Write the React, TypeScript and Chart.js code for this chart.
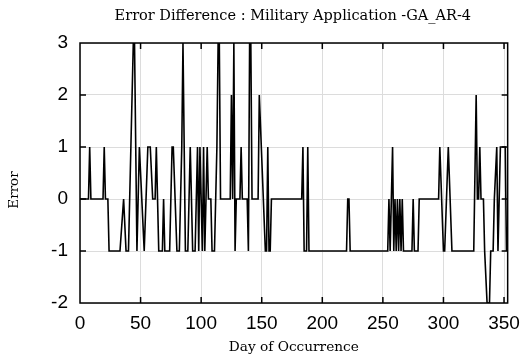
import React, { useEffect, useRef } from "react";
import { Chart, registerables } from "chart.js";

Chart.register(...registerables);

const titleText = "Error Difference : Military Application -GA_AR-4";
const xTitle = "Day of Occurrence";
const yTitle = "Error";

const xTicks = [0, 50, 100, 150, 200, 250, 300, 350];
const yTicks = [-2, -1, 0, 1, 2, 3];

const days = [
  0, 7, 8, 9, 19, 20, 21, 23, 24, 33,
  36, 38, 40, 42, 44, 45, 47, 49, 51, 53,
  56, 58, 60, 62, 63, 65, 68, 69, 70, 74,
  76, 77, 80, 82, 84, 85, 87, 89, 91, 93,
  95, 97, 98, 99, 100, 101, 102, 103, 104, 105,
  106, 108, 109, 111, 113, 114, 115, 116, 124, 125,
  126, 127, 128, 129, 132, 133, 134, 138, 139, 140,
  141, 142, 147, 148, 153, 154, 155, 156, 157, 158,
  183, 184, 185, 187, 188, 189, 220, 221, 222, 223,
  254, 255, 256, 258, 259, 260, 261, 262, 263, 264,
  265, 266, 267, 274, 275, 276, 279, 280, 296, 297,
  300, 301, 304, 307, 325, 327, 328, 329, 330, 331,
  333, 334, 336, 338, 339, 341, 342, 344, 345, 346,
  347, 351, 352,
];

const errors = [
  0, 0, 1, 0, 0, 1, 0, 0, -1, -1,
  0, -1, -1, 1, 3, 3, -1, 1, 0, -1,
  1, 1, 0, 0, 1, -1, -1, 0, -1, -1,
  1, 1, -1, -1, 1, 3, -1, -1, 1, -1,
  -1, 1, -1, 1, 0, -1, 1, -1, 0, 1,
  0, 0, -1, -1, 1, 3, 3, 0, 0, 2,
  0, 3, -1, 0, 0, 1, 0, 0, -1, 3,
  3, 0, 0, 2, -1, -1, 1, -1, -1, 0,
  0, 1, -1, -1, 1, -1, -1, 0, 0, -1,
  -1, 0, -1, 1, -1, 0, -1, 0, -1, 0,
  -1, 0, -1, -1, 0, -1, -1, 0, 0, 1,
  -1, -1, 1, -1, -1, 2, 0, 0, 1, 0,
  0, -1, -2, -2, -1, -1, 0, 1, -1, 0,
  1, 1, -1,
];

const serif = "'DejaVu Serif', 'Liberation Serif', serif";
const sans = "'Liberation Sans', Arial, sans-serif";

const framePlugin = {
  id: "frameTicksTitle",
  afterDraw(chart: any) {
    const { ctx, chartArea: a, scales } = chart;
    ctx.save();
    ctx.strokeStyle = "#000";
    ctx.lineWidth = 1.5;
    ctx.strokeRect(a.left, a.top, a.right - a.left, a.bottom - a.top);
    const L = 6;
    ctx.beginPath();
    xTicks.forEach((v) => {
      const px = scales.x.getPixelForValue(v);
      if (px <= a.left + 1 || px >= a.right - 1) return;
      ctx.moveTo(px, a.bottom);
      ctx.lineTo(px, a.bottom - L);
      ctx.moveTo(px, a.top);
      ctx.lineTo(px, a.top + L);
    });
    yTicks.forEach((v) => {
      const py = scales.y.getPixelForValue(v);
      if (py <= a.top + 1 || py >= a.bottom - 1) return;
      ctx.moveTo(a.left, py);
      ctx.lineTo(a.left + L, py);
      ctx.moveTo(a.right, py);
      ctx.lineTo(a.right - L, py);
    });
    ctx.stroke();
    ctx.fillStyle = "#000";
    ctx.font = `14.5px ${serif}`;
    ctx.textAlign = "center";
    ctx.textBaseline = "middle";
    ctx.fillText(titleText, (a.left + a.right) / 2 - 1, 16);
    ctx.font = `13.5px ${serif}`;
    ctx.translate(14, 190);
    ctx.rotate(-Math.PI / 2);
    ctx.fillText(yTitle, 0, 0);
    ctx.restore();
  },
};

export default function App() {
  const ref = useRef<HTMLCanvasElement | null>(null);

  useEffect(() => {
    if (!ref.current) return;
    const points = days.map((d, i) => ({ x: d, y: errors[i] }));
    const chart = new Chart(ref.current, {
      type: "line",
      data: {
        datasets: [
          {
            data: points,
            borderColor: "#000",
            borderWidth: 1.6,
            pointRadius: 0,
            tension: 0,
            fill: false,
          },
        ],
      },
      options: {
        animation: false,
        responsive: false,
        maintainAspectRatio: false,
        layout: { padding: { top: 43, right: 14, left: 0, bottom: 0 } },
        plugins: {
          legend: { display: false },
          title: { display: false },
          tooltip: { enabled: false },
        },
        scales: {
          x: {
            type: "linear",
            min: 0,
            max: 353,
            afterBuildTicks: (s: any) => {
              s.ticks = xTicks.map((v) => ({ value: v }));
            },
            afterFit: (s: any) => {
              s.height = 57;
            },
            grid: { color: "#dcdcdc", lineWidth: 1, drawTicks: false },
            border: { display: false },
            ticks: {
              font: { family: sans, size: 19 },
              color: "#000",
              padding: 9,
              maxRotation: 0,
              autoSkip: false,
            },
            title: {
              display: true,
              text: xTitle,
              font: { family: serif, size: 13.7 },
              color: "#000",
              padding: { top: 4, bottom: 4 },
            },
          },
          y: {
            type: "linear",
            min: -2,
            max: 3,
            afterBuildTicks: (s: any) => {
              s.ticks = yTicks.map((v) => ({ value: v }));
            },
            afterFit: (s: any) => {
              s.width = 80;
            },
            grid: { color: "#dcdcdc", lineWidth: 1, drawTicks: false },
            border: { display: false },
            ticks: {
              font: { family: sans, size: 19 },
              color: "#000",
              padding: 12,
            },
          },
        },
      },
      plugins: [framePlugin],
    });
    return () => chart.destroy();
  }, []);

  return (
    <div style={{ position: "fixed", left: 0, top: 0, width: 529, height: 360, background: "#fff" }}>
      <canvas ref={ref} width={529} height={360} style={{ width: 529, height: 360 }} />
    </div>
  );
}
